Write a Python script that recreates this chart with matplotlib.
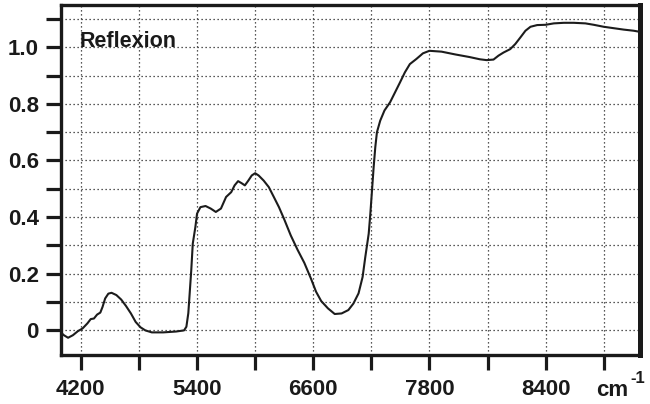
import matplotlib
matplotlib.use("Agg")
import matplotlib.pyplot as plt
from matplotlib.ticker import FixedLocator, FixedFormatter

# reflectance spectrum, wavenumber in cm-1
wavenumber = [
    4005, 4025, 4068, 4118, 4168, 4218, 4268, 4302, 4335, 4368,
    4401, 4424, 4451, 4484, 4517, 4567, 4617, 4667, 4717, 4766,
    4816, 4866, 4933, 5050, 5183, 5266, 5290, 5310, 5326, 5340,
    5356, 5383, 5400, 5435, 5488, 5541, 5594, 5647, 5700, 5753,
    5788, 5824, 5859, 5894, 5930, 5965, 6000, 6036, 6088, 6141,
    6193, 6246, 6298, 6368, 6437, 6508, 6577, 6629, 6682, 6752,
    6822, 6893, 6963, 7015, 7068, 7110, 7138, 7173, 7190, 7207,
    7224, 7241, 7258, 7292, 7336, 7394, 7445, 7496, 7547, 7598,
    7665, 7733, 7800, 7925, 8069, 8213, 8321, 8391, 8462, 8514,
    8566, 8635, 8687, 8739, 8792, 8844, 8913, 9000, 9085, 9188,
    9291, 9411, 9497, 9600, 9703, 9806, 9909, 9975,
]
reflexion = [
    -0.012, -0.018, -0.027, -0.018, -0.004, 0.006, 0.024, 0.039, 0.041, 0.055,
    0.062, 0.082, 0.112, 0.129, 0.132, 0.124, 0.108, 0.085, 0.059, 0.029,
    0.010, -0.001, -0.008, -0.008, -0.005, -0.001, 0.012, 0.060, 0.140, 0.210,
    0.306, 0.365, 0.412, 0.435, 0.439, 0.430, 0.418, 0.430, 0.471, 0.488,
    0.512, 0.527, 0.520, 0.512, 0.529, 0.547, 0.555, 0.547, 0.529, 0.506,
    0.471, 0.435, 0.394, 0.335, 0.285, 0.238, 0.182, 0.136, 0.103, 0.077,
    0.057, 0.059, 0.071, 0.094, 0.130, 0.188, 0.259, 0.341, 0.412, 0.494,
    0.576, 0.647, 0.700, 0.741, 0.777, 0.806, 0.841, 0.876, 0.912, 0.941,
    0.959, 0.979, 0.988, 0.985, 0.975, 0.966, 0.958, 0.955, 0.957, 0.971,
    0.982, 0.994, 1.012, 1.035, 1.059, 1.073, 1.079, 1.080, 1.085, 1.087,
    1.087, 1.085, 1.080, 1.073, 1.068, 1.063, 1.059, 1.055,
]
assert len(wavenumber) == len(reflexion)

x_ticks = [4200, 4800, 5400, 6000, 6600, 7200, 7800, 8400, 9000, 9600]
x_tick_labels = ['4200', '', '5400', '', '6600', '', '7800', '', '8400', '']
y_ticks = [0.0, 0.1, 0.2, 0.3, 0.4, 0.5, 0.6, 0.7, 0.8, 0.9, 1.0, 1.1]
y_tick_labels = ['0', '', '0.2', '', '0.4', '', '0.6', '', '0.8', '', '1.0', '']

plt.rcParams['font.family'] = ['Liberation Sans', 'DejaVu Sans']
plt.rcParams['font.weight'] = 'bold'

fig = plt.figure(figsize=(6.5, 4.04), dpi=100)
ax = fig.add_axes([61 / 650, 49 / 404, 579 / 650, 350 / 404])

ax.plot(wavenumber, reflexion, color='#1c1c1c', lw=1.5, zorder=3)

ax.set_xlim(3995, 9975)
ax.set_ylim(-0.088, 1.15)

ax.xaxis.set_major_locator(FixedLocator(x_ticks))
ax.xaxis.set_major_formatter(FixedFormatter(x_tick_labels))
ax.yaxis.set_major_locator(FixedLocator(y_ticks))
ax.yaxis.set_major_formatter(FixedFormatter(y_tick_labels))

ax.grid(True, color='#222222', linestyle=(0, (1, 2.2)), linewidth=0.9)
ax.set_axisbelow(True)

ax.tick_params(direction='out', length=11, width=2.3, labelsize=16,
               color='#1a1a1a', labelcolor='#1a1a1a')
ax.tick_params(axis='x', pad=6)
ax.tick_params(axis='y', pad=5)
for lbl in ax.get_xticklabels() + ax.get_yticklabels():
    lbl.set_fontweight('bold')

for side in ('left', 'bottom', 'top'):
    ax.spines[side].set_linewidth(2.4)
    ax.spines[side].set_color('#1a1a1a')
ax.spines['right'].set_linewidth(3.6)
ax.spines['right'].set_color('#1a1a1a')

ax.text(4185, 1.0, 'Reflexion', fontsize=15.5, fontweight='bold',
        color='#1a1a1a', va='baseline', ha='left')

# unit label next to the last tick
fig.text(596 / 650, (404 - 396) / 404, 'cm', fontsize=16, fontweight='bold',
         color='#1a1a1a', va='baseline', ha='left')
fig.text(630 / 650, (404 - 383) / 404, '-1', fontsize=12, fontweight='bold',
         color='#1a1a1a', va='baseline', ha='left')

fig.savefig('out.png', dpi=100, facecolor='white')
